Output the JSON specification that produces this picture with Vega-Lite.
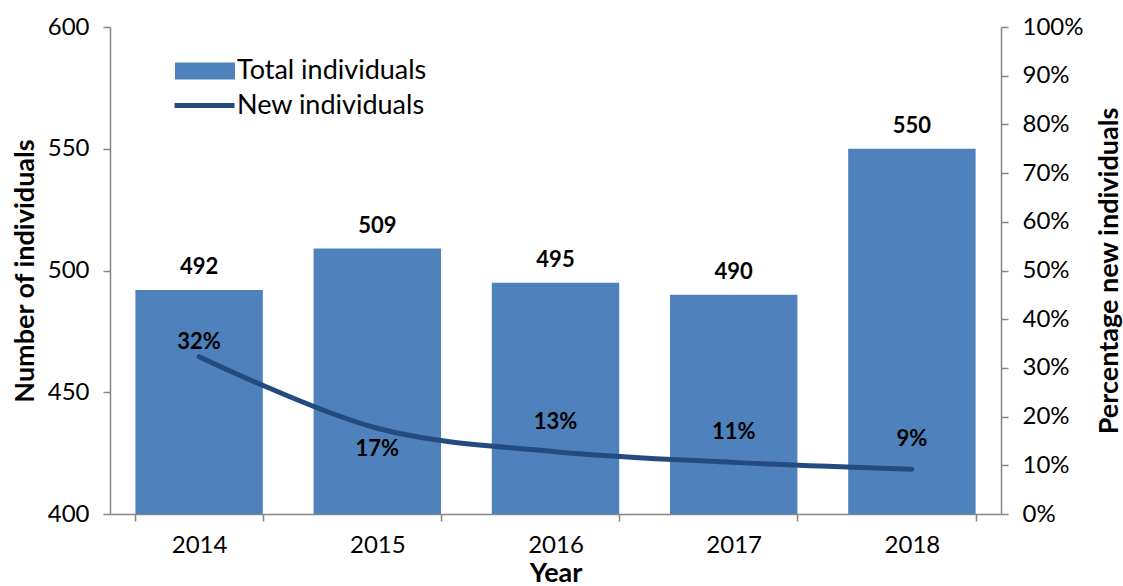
{
  "$schema": "https://vega.github.io/schema/vega-lite/v6.json",
  "autosize": "none",
  "width": 891,
  "height": 487,
  "padding": {"left": 110, "top": 27, "right": 122, "bottom": 72},
  "background": "white",
  "config": {
    "font": "Lato",
    "view": {"stroke": null},
    "axis": {
      "labelFont": "Lato", "labelFontSize": 24, "labelColor": "#000000",
      "titleFont": "Lato", "titleFontSize": 27, "titleFontWeight": "bold", "titleColor": "#000000",
      "domainColor": "#868686", "domainWidth": 1.5, "tickColor": "#868686", "tickWidth": 1.5, "tickSize": 7,
      "grid": false
    },
    "legend": {"labelFont": "Lato", "labelFontSize": 27, "labelColor": "#000000", "padding": 0, "labelLimit": 0}
  },
  "data": {"values": [
    {"year": "2014", "total": 492, "pct": 32.3, "label": "32%"},
    {"year": "2015", "total": 509, "pct": 17.6, "label": "17%"},
    {"year": "2016", "total": 495, "pct": 12.8, "label": "13%"},
    {"year": "2017", "total": 490, "pct": 10.6, "label": "11%"},
    {"year": "2018", "total": 550, "pct": 9.2, "label": "9%"}
  ]},
  "encoding": {
    "x": {"field": "year", "type": "ordinal",
      "scale": {"paddingInner": 0.285, "paddingOuter": 0.1425},
      "axis": {"labelAngle": 0, "tickBand": "extent", "title": "Year", "labelPadding": 12, "titlePadding": 3}}
  },
  "layer": [
    {
      "encoding": {
        "y": {"field": "total", "type": "quantitative",
          "scale": {"domain": [400, 600], "zero": false, "nice": false},
          "axis": {"orient": "left", "values": [400, 450, 500, 550, 600], "title": "Number of individuals", "labelPadding": 14, "titlePadding": 8}}
      },
      "layer": [
        {
          "mark": {"type": "bar", "fill": "#4F81BD"},
          "encoding": {
            "y2": {"datum": 400},
            "color": {"datum": "Total individuals", "type": "nominal",
              "scale": {"range": ["#4F81BD"]},
              "legend": {"orient": "none", "legendX": 65, "legendY": 14, "title": null,
                "symbolType": "M-1,-0.28H1V0.28H-1Z", "symbolSize": 3600, "symbolStrokeWidth": 0, "labelOffset": 2}}
          }
        },
        {
          "mark": {"type": "text", "dy": -23, "fontSize": 22, "fontWeight": "bold", "color": "#000000", "baseline": "middle"},
          "encoding": {"text": {"field": "total", "type": "quantitative"}}
        }
      ]
    },
    {
      "encoding": {
        "y": {"field": "pct", "type": "quantitative",
          "scale": {"domain": [0, 100], "nice": false},
          "axis": {"orient": "right", "values": [0, 10, 20, 30, 40, 50, 60, 70, 80, 90, 100], "labelExpr": "datum.value + '%'", "title": "Percentage new individuals", "titleAngle": 270, "titleBaseline": "top", "labelPadding": 14, "titlePadding": 14}}
      },
      "layer": [
        {
          "mark": {"type": "line", "strokeWidth": 5, "interpolate": "catmull-rom", "strokeCap": "round"},
          "encoding": {
            "stroke": {"datum": "New individuals", "type": "nominal",
              "scale": {"range": ["#244B7F"]},
              "legend": {"orient": "none", "legendX": 62, "legendY": 46, "title": null,
                "symbolType": "stroke", "symbolSize": 3600, "symbolStrokeWidth": 5, "labelOffset": 0}}
          }
        },
        {
          "transform": [{"filter": "datum.year == '2014'"}],
          "mark": {"type": "text", "dy": -15, "fontSize": 22, "fontWeight": "bold", "color": "#000000", "baseline": "middle"},
          "encoding": {"text": {"field": "label", "type": "nominal"}}
        },
        {
          "transform": [{"filter": "datum.year == '2015'"}],
          "mark": {"type": "text", "dy": 21, "fontSize": 22, "fontWeight": "bold", "color": "#000000", "baseline": "middle"},
          "encoding": {"text": {"field": "label", "type": "nominal"}}
        },
        {
          "transform": [{"filter": "datum.year != '2014' && datum.year != '2015'"}],
          "mark": {"type": "text", "dy": -30, "fontSize": 22, "fontWeight": "bold", "color": "#000000", "baseline": "middle"},
          "encoding": {"text": {"field": "label", "type": "nominal"}}
        }
      ]
    }
  ],
  "resolve": {"scale": {"y": "independent"}}
}
